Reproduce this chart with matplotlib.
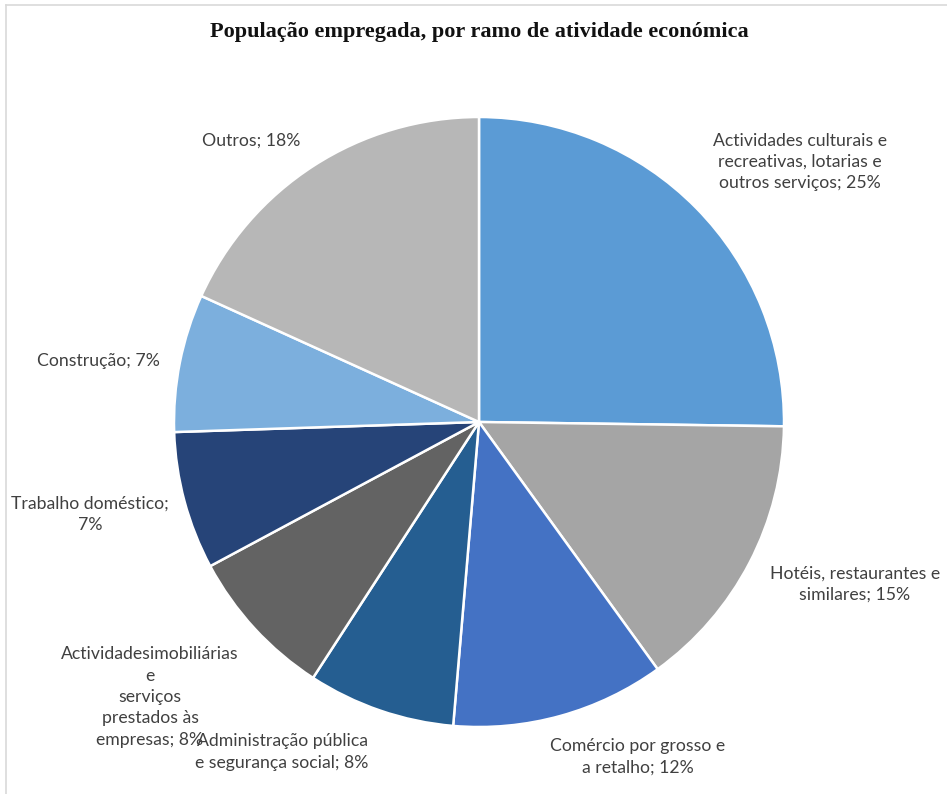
import matplotlib
matplotlib.use("Agg")
import matplotlib.pyplot as plt
from matplotlib.lines import Line2D

title = "População empregada, por ramo de atividade económica"
categories = [
    "Actividades culturais e\nrecreativas, lotarias e\noutros serviços",
    "Hotéis, restaurantes e\nsimilares",
    "Comércio por grosso e\na retalho",
    "Administração pública\ne segurança social",
    "Actividadesimobiliárias\ne\nserviços\nprestados às\nempresas",
    "Trabalho doméstico;\n",
    "Construção",
    "Outros",
]
values = [25.2, 14.8, 11.3, 7.8, 8.0, 7.3, 7.3, 18.2]
pct_labels = ["25%", "15%", "12%", "8%", "8%", "7%", "7%", "18%"]
colors = ["#5B9BD5", "#A5A5A5", "#4472C4", "#255E91",
          "#636363", "#264478", "#7CAFDD", "#B7B7B7"]

W, H = 947, 794
cx, cy, r = 479, 422, 305

# label layout (pixel centres converted to data coords, pie radius = 1)
label_px = [(800, 162), (855, 584), (638, 757), (282, 752),
            (150, 697), (90, 514), (98, 361), (251, 141)]

fig = plt.figure(figsize=(W / 100, H / 100), dpi=100)
fig.patch.set_facecolor("white")

ax = fig.add_axes([(cx - r) / W, (H - cy - r) / H, 2 * r / W, 2 * r / H])
ax.pie(values, colors=colors, startangle=90, counterclock=False, radius=1,
       wedgeprops=dict(edgecolor="white", linewidth=1.8))
ax.set_xlim(-1, 1)
ax.set_ylim(-1, 1)
ax.set_aspect("auto")
ax.axis("off")

for cat, pct, (px, py) in zip(categories, pct_labels, label_px):
    x, y = (px - cx) / r, (cy - py) / r
    if cat.endswith("\n"):
        txt = cat + pct
    else:
        txt = cat + "; " + pct
    ax.text(x, y, txt, ha="center", va="center", fontsize=12.7,
            family="Lato", color="#404040", linespacing=1.42, clip_on=False)

fig.text(479 / W, 1 - 32 / H, title, ha="center", va="center",
         fontsize=16, fontweight="bold", family="Liberation Serif", color="#111111")

# chart border (left and top)
fig.add_artist(Line2D([6 / W, 6 / W], [0, 1 - 5 / H], transform=fig.transFigure,
                      color="#D9D9D9", linewidth=1.2))
fig.add_artist(Line2D([6 / W, 1], [1 - 5 / H, 1 - 5 / H], transform=fig.transFigure,
                      color="#D9D9D9", linewidth=1.2))

fig.savefig("out.png", dpi=100, facecolor="white")
